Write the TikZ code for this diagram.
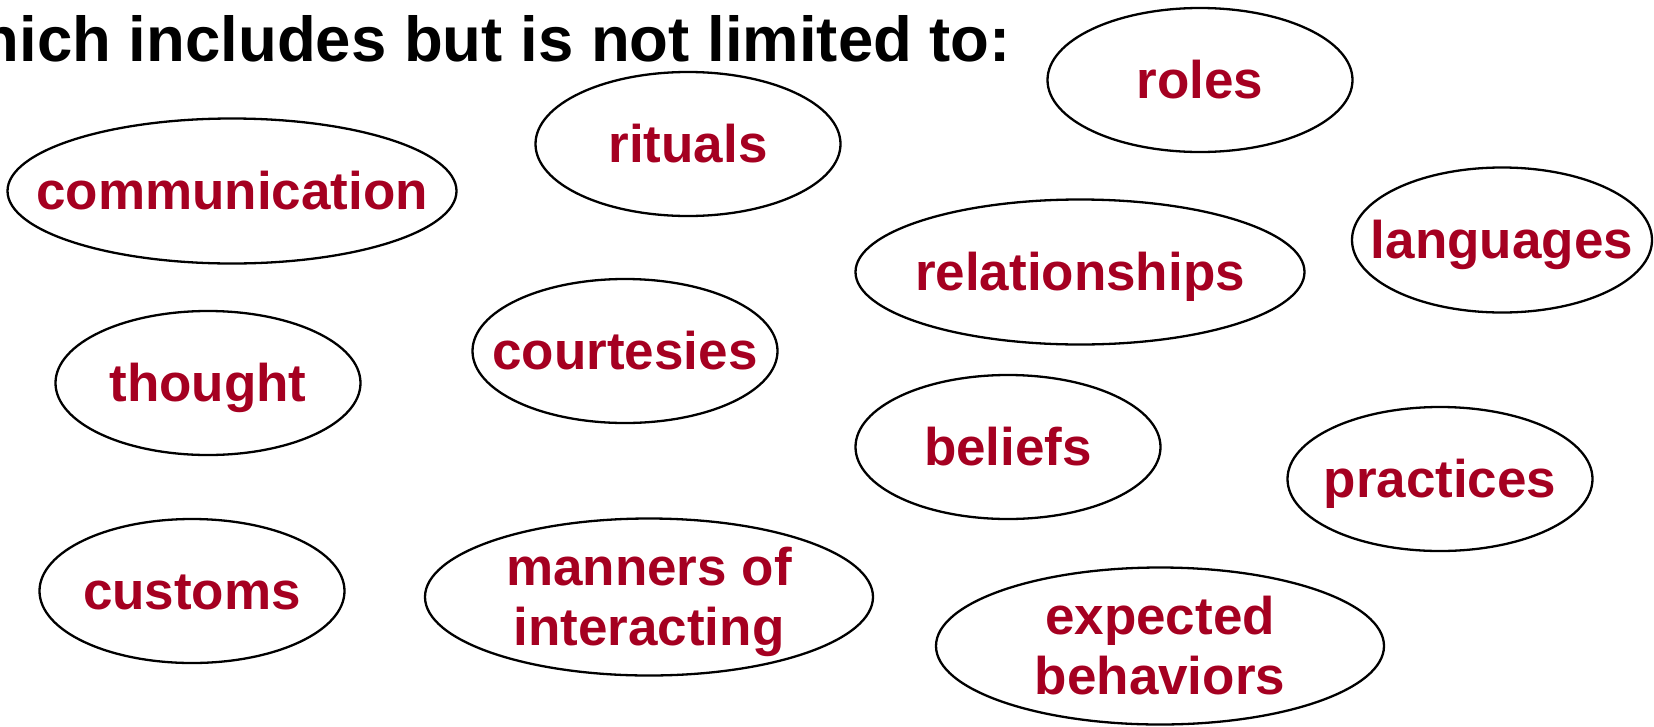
\documentclass[tikz,border=0pt]{standalone}
\usepackage{fontspec}
\setmainfont{Liberation Sans}
\usetikzlibrary{shapes}

\definecolor{wordred}{RGB}{165,0,33}

% label box of no width, so the ellipse keeps its given size
\newcommand{\word}[1]{\makebox[0pt]{#1}}
\newcommand{\twoword}[2]{\makebox[0pt]{\begin{tabular}[t]{@{}c@{}}#1\\#2\end{tabular}}}

\begin{document}
\begin{tikzpicture}[x=1pt, y=-1pt]
        \tikzstyle{bubble} = [draw, ellipse, line width=2.3pt, inner sep=0pt, text=wordred, font=\bfseries\fontsize{53}{60}\selectfont, text height=37pt, text depth=0pt, minimum width=305pt, minimum height=144pt]
        \tikzstyle{wide} = [minimum width=449pt, minimum height=145pt]
        \tikzstyle{tall} = [minimum width=448pt, minimum height=157pt, text depth=60pt]
        \tikzstyle{lead} = [font=\bfseries\fontsize{63.5}{70}\selectfont, inner sep=0pt]

        \useasboundingbox (0,0) rectangle (1654,726);
        \clip (0,0) rectangle (1654,726);

        \node [lead, anchor=base east] (intro) at (1011,61) {which includes but is not limited to:};

        \node [bubble, wide] (communication) at (232,191) {\word{communication}};
        \node [bubble] (rituals) at (688,144) {\word{rituals}};
        \node [bubble] (roles) at (1200,80) {\word{roles}};
        \node [bubble, minimum width=300pt, minimum height=145pt] (languages) at (1502,240) {\word{languages}};
        \node [bubble, wide] (relationships) at (1080,272) {\word{relationships}};
        \node [bubble] (thought) at (208,383) {\word{thought}};
        \node [bubble] (courtesies) at (625,351) {\word{courtesies}};
        \node [bubble] (beliefs) at (1008,447) {\word{beliefs}};
        \node [bubble] (practices) at (1440,479) {\word{practices}};
        \node [bubble] (customs) at (192,591) {\word{customs}};
        \node [bubble, tall] (manners) at (649,597) {\twoword{manners of}{interacting}};
        \node [bubble, tall] (expected) at (1160,646) {\twoword{expected}{behaviors}};
    \end{tikzpicture}
\end{document}
